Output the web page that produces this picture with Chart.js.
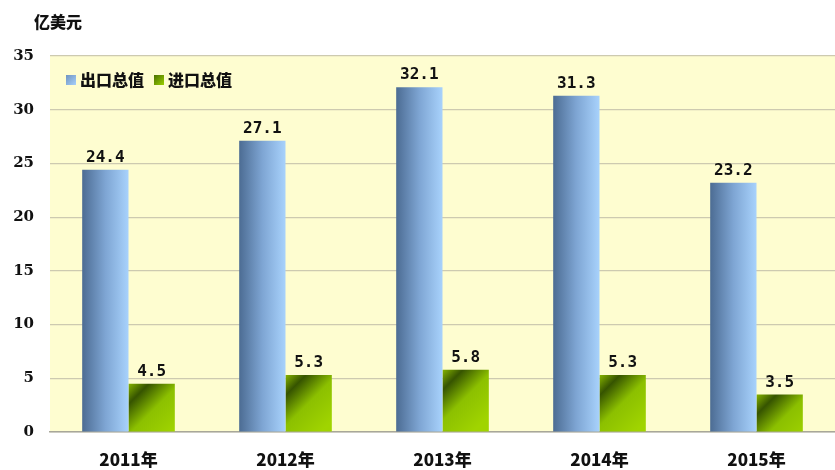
<!DOCTYPE html>
<html>
<head>
<meta charset="utf-8">
<script src="https://cdn.jsdelivr.net/npm/chart.js@4/dist/chart.umd.min.js"></script>
<style>
  html, body { margin: 0; padding: 0; background: #fff; }
  #wrap { width: 835px; height: 470px; position: relative; }
</style>
</head>
<body>
<div id="wrap"><canvas id="c"></canvas></div>
<script>
// values (亿美元)
const years = ['2011年', '2012年', '2013年', '2014年', '2015年'];
const exportVals = [24.4, 27.1, 32.1, 31.3, 23.2];
const importVals = [4.5, 5.3, 5.8, 5.3, 3.5];
const seriesNames = ['出口总值', '进口总值'];
const unitLabel = '亿美元';

const BOLD_CJK = '"Noto Sans CJK SC", "DejaVu Serif", serif';

/* shading: export bars dark-left -> light-right, import bars dark top-left corner */
function blueFill(c, bar) {
  const g = c.createLinearGradient(bar.x - bar.width / 2, 0, bar.x + bar.width / 2, 0);
  g.addColorStop(0, '#4c6c93');
  g.addColorStop(0.5, '#7ea5d3');
  g.addColorStop(1, '#a8d2fc');
  return g;
}
function greenFill(c, bar) {
  const x0 = bar.x - bar.width / 2;
  const g = c.createLinearGradient(x0, bar.y, x0 + bar.width, bar.y + bar.width);
  g.addColorStop(0, '#86b400');
  g.addColorStop(0.22, '#365400');
  g.addColorStop(0.55, '#8cc000');
  g.addColorStop(1, '#a0d400');
  return g;
}

const plotBg = {
  id: 'plotBg',
  beforeDraw(chart) {
    const { ctx, chartArea: a } = chart;
    ctx.save();
    ctx.fillStyle = '#fefdd0';
    ctx.fillRect(a.left, a.top, a.right - a.left, a.bottom - a.top);
    ctx.restore();
  },
  beforeDatasetsDraw(chart) {
    // bars share one options object, so give each its own copy with its gradient
    const fns = [blueFill, greenFill];
    chart.data.datasets.forEach((ds, i) => {
      chart.getDatasetMeta(i).data.forEach(bar => {
        bar.options = Object.assign({}, bar.options, { backgroundColor: fns[i](chart.ctx, bar) });
      });
    });
  }
};

const extras = {
  id: 'extras',
  afterDatasetsDraw(chart) {
    const { ctx, chartArea: a } = chart;
    ctx.save();
    // value labels
    ctx.fillStyle = '#111';
    ctx.font = 'bold 16px "DejaVu Sans Mono", monospace';
    ctx.textAlign = 'center';
    ctx.textBaseline = 'bottom';
    chart.data.datasets.forEach((ds, i) => {
      chart.getDatasetMeta(i).data.forEach((bar, j) => {
        ctx.fillText(ds.data[j].toFixed(1), bar.x, bar.y - 4);
      });
    });
    // unit
    ctx.font = '900 16px ' + BOLD_CJK;
    ctx.textAlign = 'left';
    ctx.textBaseline = 'middle';
    ctx.fillText(unitLabel, 34, 22);
    // legend inside plot
    const fills = [['#6f93c0', '#a6d0fb'], ['#4a7000', '#9ad000']];
    let x = a.left + 16;
    const y = 80;
    seriesNames.forEach((name, i) => {
      const g = ctx.createLinearGradient(x, y - 5, x + 10, y + 5);
      g.addColorStop(0, fills[i][0]);
      g.addColorStop(1, fills[i][1]);
      ctx.fillStyle = g;
      ctx.fillRect(x, y - 5, 10, 10);
      ctx.fillStyle = '#111';
      ctx.font = '900 16px ' + BOLD_CJK;
      ctx.fillText(name, x + 14, y);
      x += 14 + ctx.measureText(name).width + 10;
    });
    ctx.restore();
  }
};

new Chart(document.getElementById('c'), {
  type: 'bar',
  data: {
    labels: years,
    datasets: [
      { label: seriesNames[0], data: exportVals, backgroundColor: '#8db4e2' },
      { label: seriesNames[1], data: importVals, backgroundColor: '#8fc400' }
    ]
  },
  options: {
    responsive: true,
    maintainAspectRatio: false,
    animation: false,
    devicePixelRatio: 1,
    categoryPercentage: 0.59,
    barPercentage: 1,
    layout: { padding: { top: 56, right: 0, bottom: 0, left: 0 } },
    plugins: { legend: { display: false }, tooltip: { enabled: false } },
    scales: {
      x: {
        grid: { display: false },
        border: { color: '#a8a79a', width: 1.5 },
        ticks: { color: '#111', font: { family: BOLD_CJK, size: 17, weight: '900' }, padding: 9 },
        afterFit(s) { s.height = 38; }
      },
      y: {
        min: 0, max: 35,
        border: { display: false },
        grid: { color: '#cdcab0', lineWidth: 1.2, drawTicks: false },
        ticks: {
          stepSize: 5, color: '#111', padding: 16,
          font: { family: '"DejaVu Serif", serif', size: 15, weight: 'bold' }
        },
        afterFit(s) { s.width = 50; }
      }
    }
  },
  plugins: [plotBg, extras]
});
</script>
</body>
</html>
